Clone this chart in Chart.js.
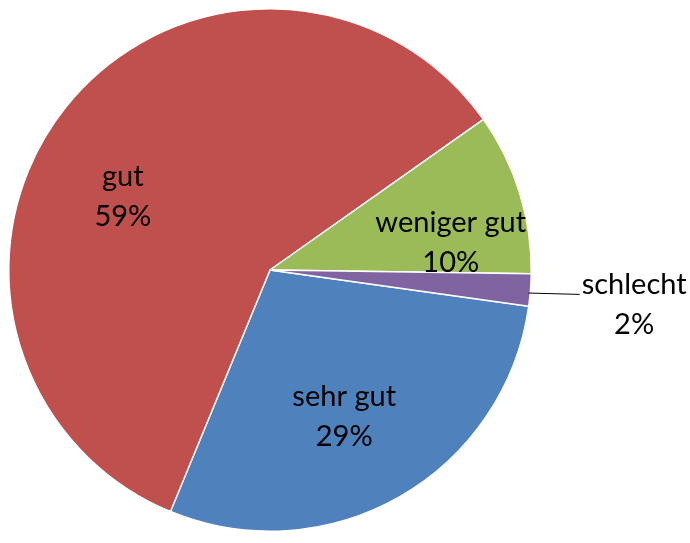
<!DOCTYPE html>
<html>
<head>
<meta charset="utf-8">
<script src="https://cdn.jsdelivr.net/npm/chart.js@4/dist/chart.umd.min.js"></script>
<style>
  html, body { margin: 0; padding: 0; background: #fff; }
  #wrap { width: 690px; height: 543px; }
</style>
</head>
<body>
<div id="wrap"><canvas id="pie"></canvas></div>
<script>
// Daten
const categories = ["sehr gut", "gut", "weniger gut", "schlecht"];
const values = [29, 59, 10, 2];
const colors = ["#4F81BD", "#C0504D", "#9BBB59", "#8064A2"];

// Beschriftungsposition (Anteil des Radius, Winkelverschiebung in Grad)
const labelRadius = [0.63, 0.63, 0.70, 1.40];
const labelShift = [3, -12, 8.5, 1];

const total = values.reduce((a, b) => a + b, 0);

const pieLabels = {
    id: "pieLabels",
    afterDatasetsDraw(chart) {
        const ctx = chart.ctx;
        const arcs = chart.getDatasetMeta(0).data;
        ctx.save();
        ctx.font = "29px Lato, 'Open Sans', sans-serif";
        ctx.fillStyle = "#000";
        ctx.textAlign = "center";
        ctx.textBaseline = "middle";
        arcs.forEach((arc, i) => {
            const p = arc.getProps(["x", "y", "startAngle", "endAngle", "outerRadius"], true);
            const mid = (p.startAngle + p.endAngle) / 2 + labelShift[i] * Math.PI / 180;
            const r = p.outerRadius * labelRadius[i];
            const lx = p.x + Math.cos(mid) * r;
            const ly = p.y + Math.sin(mid) * r;
            const pct = Math.round(values[i] / total * 100) + "%";
            if (labelRadius[i] > 1) {
                // Führungslinie für den äußeren Wert
                const amid = (p.startAngle + p.endAngle) / 2;
                const ex = p.x + Math.cos(amid) * p.outerRadius;
                const ey = p.y + Math.sin(amid) * p.outerRadius;
                const w = ctx.measureText(categories[i]).width;
                ctx.beginPath();
                ctx.strokeStyle = "#000";
                ctx.lineWidth = 1;
                ctx.moveTo(ex - 2, ey + 3);
                ctx.lineTo(lx - w / 2 - 2, ly - 10);
                ctx.stroke();
            }
            ctx.fillText(categories[i], lx, ly - 20);
            ctx.fillText(pct, lx, ly + 20);
        });
        ctx.restore();
    }
};

new Chart(document.getElementById("pie"), {
    type: "pie",
    data: {
        labels: categories,
        datasets: [{
            data: values,
            backgroundColor: colors,
            borderColor: "#fff",
            borderWidth: 1.5
        }]
    },
    options: {
        responsive: true,
        maintainAspectRatio: false,
        animation: false,
        rotation: 98,
        layout: { padding: { left: 8, right: 158, top: 8, bottom: 11 } },
        plugins: {
            legend: { display: false },
            tooltip: { enabled: false }
        }
    },
    plugins: [pieLabels]
});
</script>
</body>
</html>
